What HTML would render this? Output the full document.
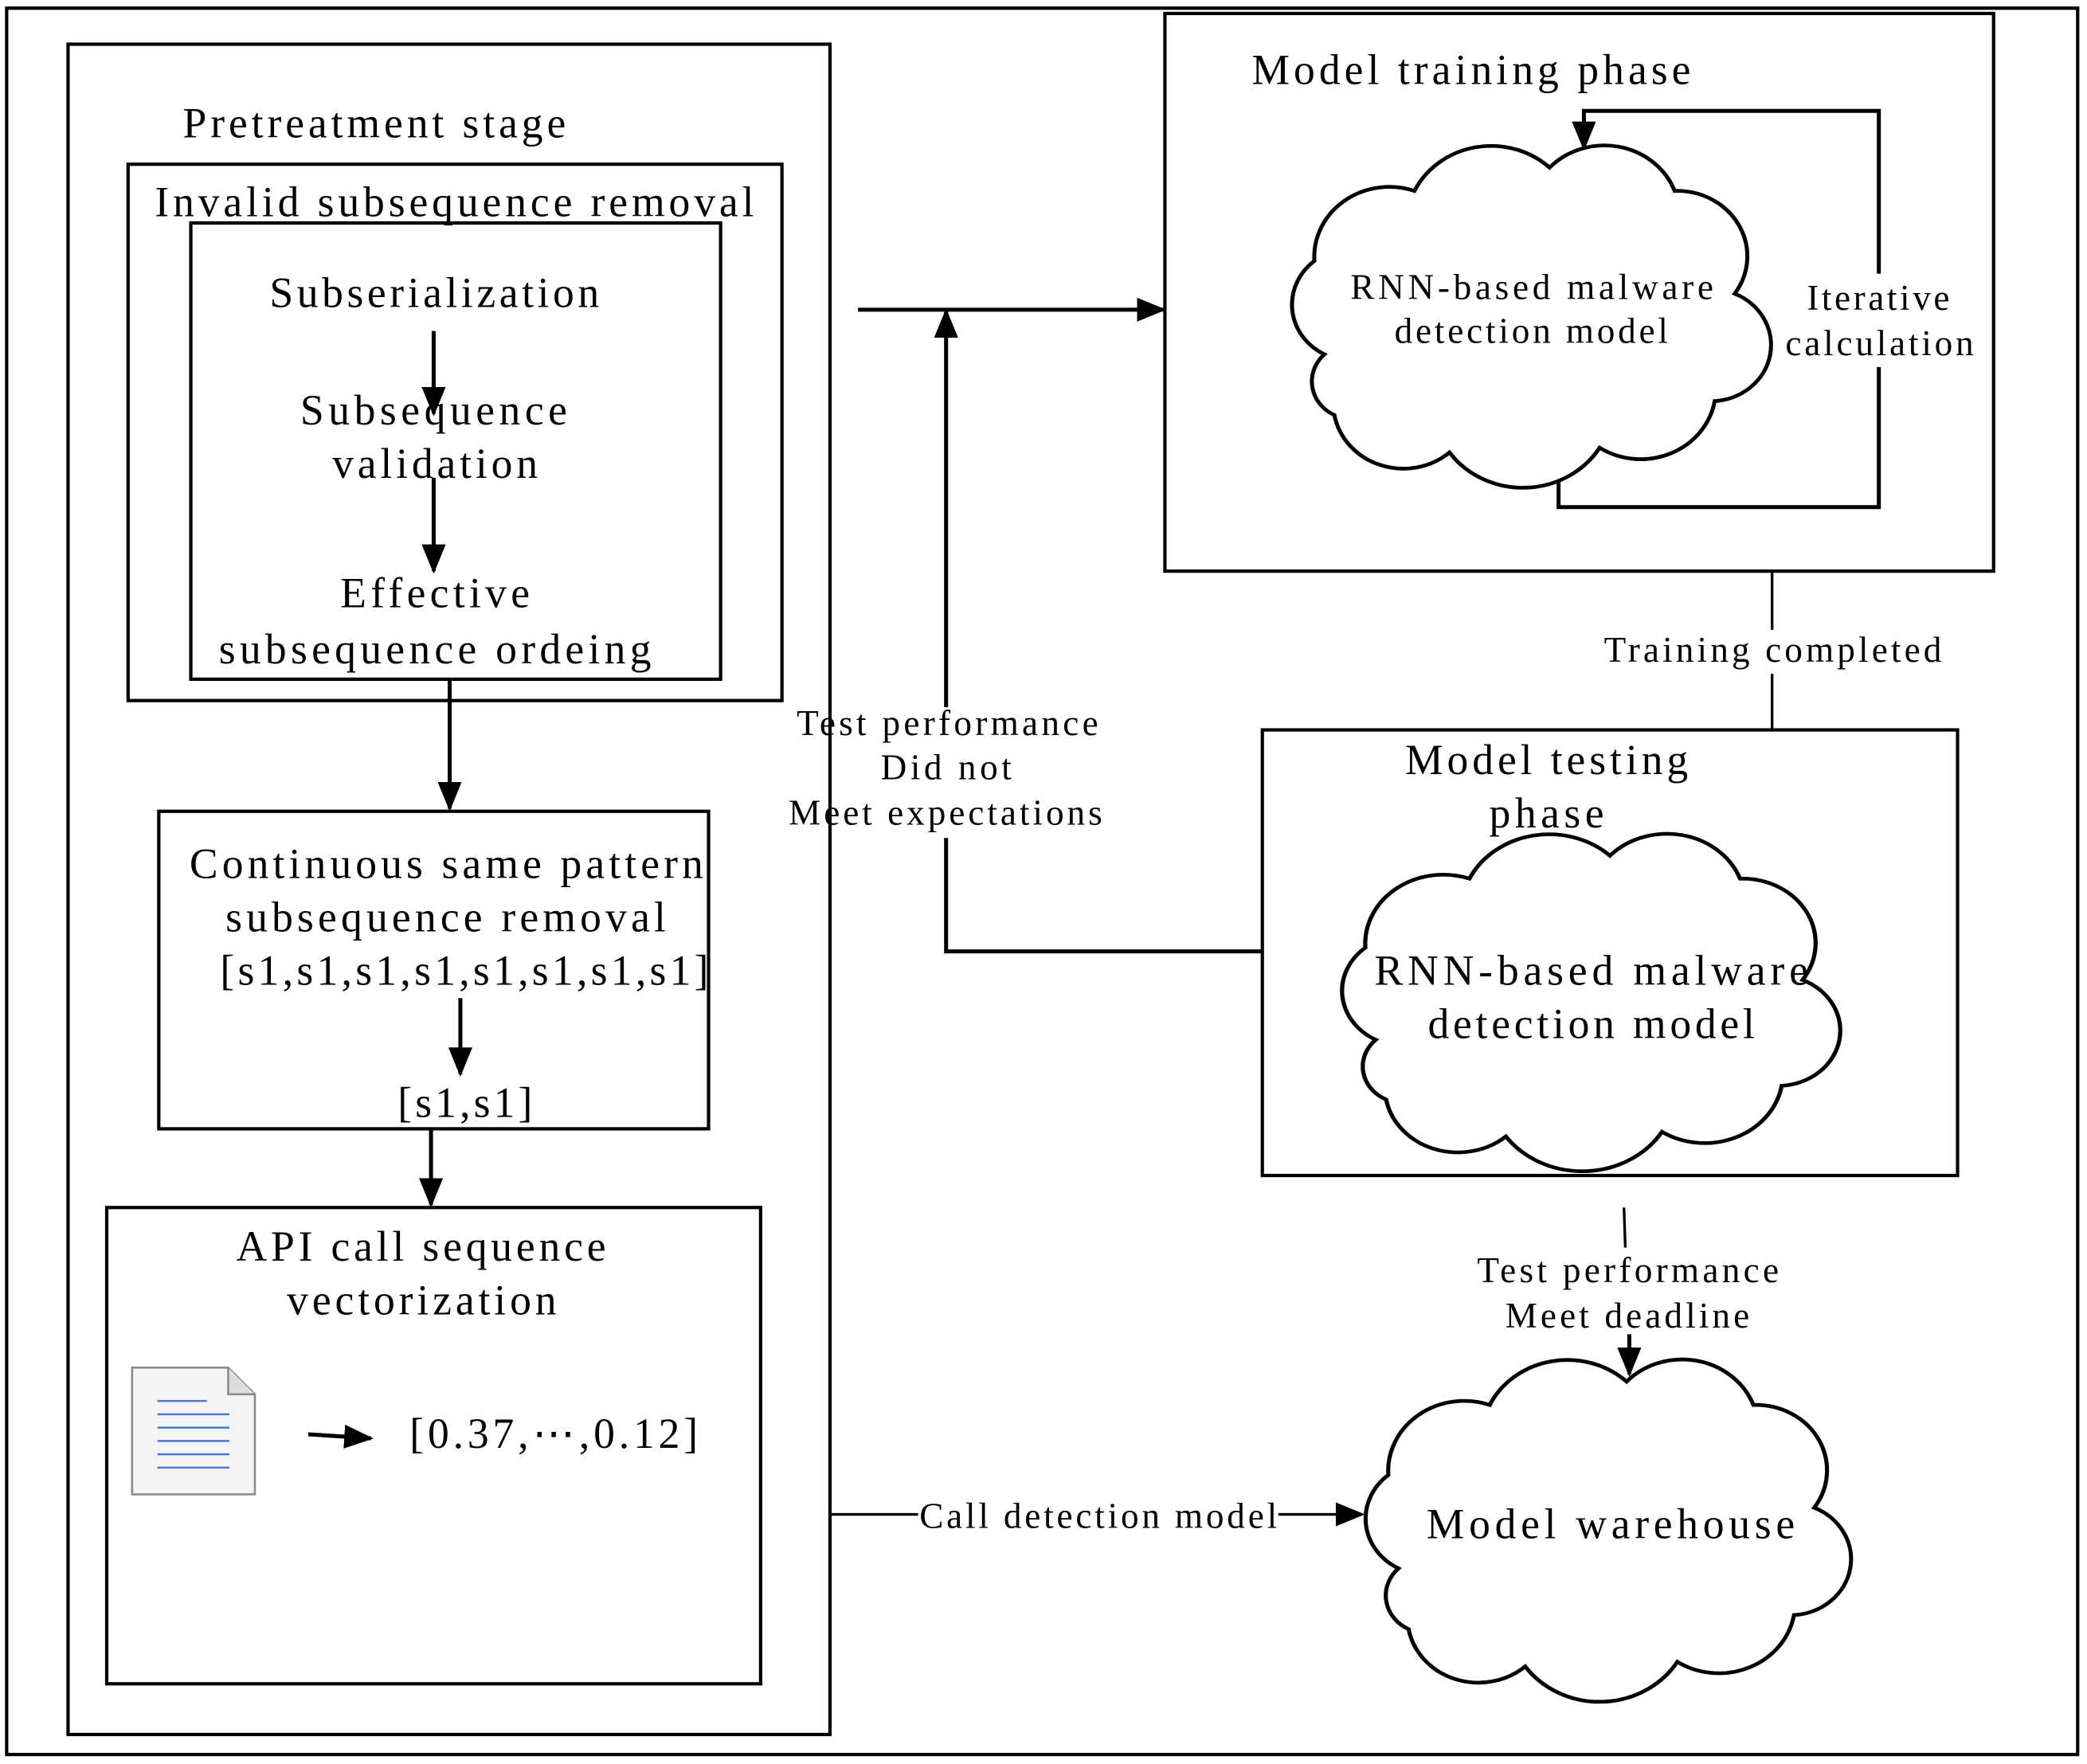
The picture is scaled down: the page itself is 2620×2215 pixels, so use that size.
<!DOCTYPE html>
<html><head><meta charset="utf-8"><style>html,body{margin:0;padding:0;background:#fff}svg{display:block}</style></head>
<body>
<svg width="2620" height="2215" viewBox="0 0 1564 1322" xmlns="http://www.w3.org/2000/svg" font-family="Liberation Serif, serif" fill="#000">
<defs>
<marker id="ahb" markerWidth="22" markerHeight="18" refX="20" refY="9" orient="auto" markerUnits="userSpaceOnUse"><path d="M0,0 L22,9 L0,18 z"/></marker>
<path id="cloud" d="M 10,45 A 12,12 0 0 1 8,25 A 15,15 0 0 1 28,10 A 17,17 0 0 1 55,5 A 15,15 0 0 1 80,10 A 14,14 0 0 1 92,32 A 12,12 0 0 1 88,55 A 15,15 0 0 1 65,65 A 18,18 0 0 1 35,66 A 14,14 0 0 1 12,58 A 8,8 0 0 1 10,45 Z"/>
</defs>
<g fill="none" stroke="#000" stroke-width="2.5">
<rect x="5" y="6" width="1552" height="1309"/>
<rect x="51" y="33" width="571" height="1267"/>
<rect x="96" y="123" width="490" height="402"/>
<rect x="143" y="167" width="397" height="342"/>
<rect x="119" y="608" width="412" height="238"/>
<rect x="80" y="905" width="490" height="357"/>
<rect x="873" y="10" width="621" height="418"/>
<rect x="946" y="547" width="521" height="334"/>
</g>
<g stroke="#000" stroke-width="3" fill="none">
<line x1="325" y1="248" x2="325" y2="310" marker-end="url(#ahb)"/>
<line x1="325" y1="358" x2="325" y2="428" marker-end="url(#ahb)"/>
<line x1="337" y1="510" x2="337" y2="606" marker-end="url(#ahb)"/>
<line x1="345" y1="748" x2="345" y2="805" marker-end="url(#ahb)"/>
<line x1="323" y1="847" x2="323" y2="903" marker-end="url(#ahb)"/>
<line x1="231" y1="1075" x2="278" y2="1078" marker-end="url(#ahb)"/>
<line x1="643" y1="232" x2="872" y2="232" marker-end="url(#ahb)"/>
<polyline points="946,713 709,713 709,628"/>
<line x1="709" y1="530" x2="709" y2="233" marker-end="url(#ahb)"/>
<polyline points="1168,352 1168,380 1408,380 1408,275"/>
<polyline points="1408,205 1408,83 1187,83 1187,111" marker-end="url(#ahb)"/>
<line x1="1221" y1="1000" x2="1221" y2="1030" marker-end="url(#ahb)"/>
</g>
<g stroke="#000" stroke-width="2" fill="none">
<line x1="1328" y1="428" x2="1328" y2="472"/>
<line x1="1328" y1="505" x2="1328" y2="547"/>
<line x1="1217" y1="905" x2="1218" y2="935"/>
<line x1="622" y1="1135" x2="688" y2="1135"/>
<line x1="958" y1="1135" x2="1021" y2="1135" marker-end="url(#ahb)"/>
</g>
<g fill="#fff" stroke="#000">
<use href="#cloud" transform="translate(955,108) scale(3.75,3.5)" style="stroke-width:0.8"/>
<use href="#cloud" transform="translate(992,624) scale(3.9,3.45)" style="stroke-width:0.8"/>
<use href="#cloud" transform="translate(1010,1018) scale(3.8,3.5)" style="stroke-width:0.8"/>
</g>
<path d="M99,1025 L171,1025 L191,1045 L191,1120 L99,1120 Z" fill="#f4f4f4" stroke="#888" stroke-width="1.5"/>
<path d="M171,1025 L171,1045 L191,1045" fill="#ddd" stroke="#888" stroke-width="1.5"/>
<g stroke="#4a78d0" stroke-width="1.5">
<line x1="118" y1="1050" x2="155" y2="1050"/>
<line x1="118" y1="1060" x2="172" y2="1060"/>
<line x1="118" y1="1070" x2="172" y2="1070"/>
<line x1="118" y1="1080" x2="172" y2="1080"/>
<line x1="118" y1="1090" x2="172" y2="1090"/>
<line x1="118" y1="1100" x2="172" y2="1100"/>
</g>
<g font-size="32" lengthAdjust="spacing">
<text x="137" y="103" textLength="287">Pretreatment stage</text>
<text x="116" y="162" textLength="449">Invalid subsequence removal</text>
<text x="202" y="230" textLength="247">Subserialization</text>
<text x="225" y="318" textLength="200">Subsequence</text>
<text x="249" y="358" textLength="154">validation</text>
<text x="255" y="455" textLength="142">Effective</text>
<text x="164" y="497" textLength="324">subsequence ordeing</text>
<text x="142" y="658" textLength="385">Continuous same pattern</text>
<text x="169" y="698" textLength="330">subsequence removal</text>
<text x="165" y="738" textLength="366">[s1,s1,s1,s1,s1,s1,s1,s1]</text>
<text x="298" y="837" textLength="101">[s1,s1]</text>
<text x="177" y="945" textLength="277">API call sequence</text>
<text x="215" y="985" textLength="202">vectorization</text>
<text x="307" y="1085" textLength="216">[0.37,⋯,0.12]</text>
<text x="938" y="63" textLength="329">Model training phase</text>
<text x="1053" y="580" textLength="212">Model testing</text>
<text x="1116" y="620" textLength="86">phase</text>
<text x="1030" y="738" textLength="325">RNN-based malware</text>
<text x="1070" y="778" textLength="245">detection model</text>
<text x="1069" y="1153" textLength="276">Model warehouse</text>
</g>
<g font-size="27">
<text x="1012" y="224" textLength="272">RNN-based malware</text>
<text x="1045" y="257" textLength="205">detection model</text>
<text x="1354" y="232" textLength="107">Iterative</text>
<text x="1338" y="266" textLength="141">calculation</text>
<text x="597" y="551" textLength="226">Test performance</text>
<text x="660" y="584" textLength="98">Did not</text>
<text x="591" y="618" textLength="235">Meet expectations</text>
<text x="1202" y="496" textLength="253">Training completed</text>
<text x="1107" y="961" textLength="226">Test performance</text>
<text x="1128" y="995" textLength="183">Meet deadline</text>
<text x="689" y="1145" textLength="268">Call detection model</text>
</g>
</svg>
</body></html>
